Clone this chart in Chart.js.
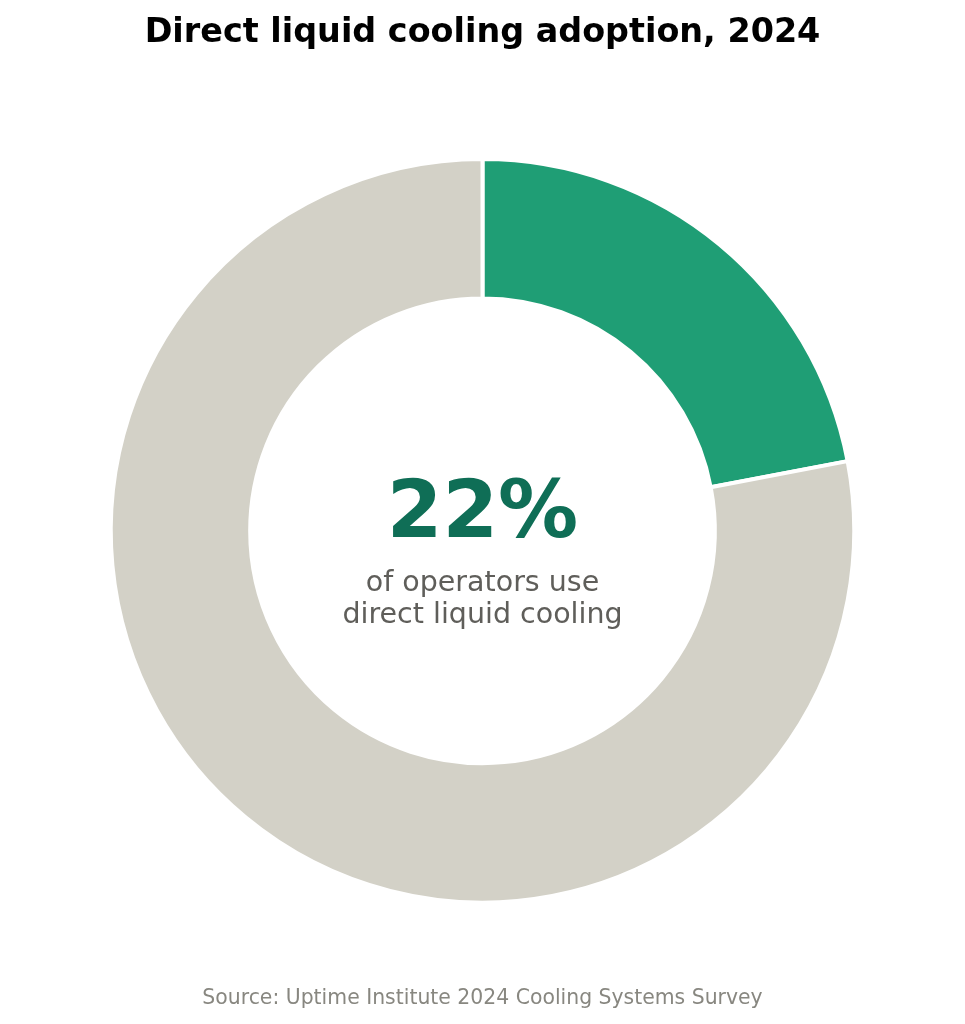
<!DOCTYPE html>
<html>
<head>
<meta charset="utf-8">
<script src="https://cdn.jsdelivr.net/npm/chart.js@4/dist/chart.umd.min.js"></script>
<style>
  html, body { margin: 0; padding: 0; background: #ffffff; }
  #wrap { width: 965px; height: 1024px; position: relative; }
</style>
</head>
<body>
<div id="wrap"><canvas id="c"></canvas></div>
<script>
const categories = ["Use direct liquid cooling", "Do not use direct liquid cooling"];
const shareValues = [22, 78];
const sliceColors = ["#1f9e75", "#d3d1c7"];
const titleText = "Direct liquid cooling adoption, 2024";
const centerValue = "22%";
const centerLines = ["of operators use", "direct liquid cooling"];
const sourceText = "Source: Uptime Institute 2024 Cooling Systems Survey";

const FONT = "'DejaVu Sans', sans-serif";

const centerTextPlugin = {
  id: 'centerText',
  afterDatasetsDraw(chart) {
    const meta = chart.getDatasetMeta(0);
    if (!meta.data.length) return;
    const arc = meta.data[0];
    const cx = arc.x, cy = arc.y;
    const ctx = chart.ctx;
    ctx.save();
    ctx.textAlign = 'center';
    ctx.textBaseline = 'alphabetic';
    ctx.fillStyle = '#0f6e56';
    ctx.font = "bold 80px " + FONT;
    ctx.fillText(centerValue, cx, cy + 6);
    ctx.fillStyle = '#5f5e5a';
    ctx.font = "28.5px " + FONT;
    ctx.fillText(centerLines[0], cx, cy + 60);
    ctx.fillText(centerLines[1], cx, cy + 92);
    ctx.restore();
  }
};

new Chart(document.getElementById('c'), {
  type: 'doughnut',
  data: {
    labels: categories,
    datasets: [{
      data: shareValues,
      backgroundColor: sliceColors,
      borderColor: '#ffffff',
      borderWidth: 4,
      hoverOffset: 0
    }]
  },
  options: {
    responsive: true,
    maintainAspectRatio: false,
    animation: false,
    cutout: '62.5%',
    rotation: 0,
    layout: { padding: 0 },
    plugins: {
      legend: { display: false },
      tooltip: { enabled: false },
      title: {
        display: true,
        text: titleText,
        color: '#000000',
        font: { family: FONT, size: 33.4, weight: 'bold', lineHeight: 1.2 },
        padding: { top: 13, bottom: 104 }
      },
      subtitle: {
        display: true,
        position: 'bottom',
        text: sourceText,
        color: '#888780',
        font: { family: FONT, size: 20.4, weight: 'normal', lineHeight: 1.2 },
        padding: { top: 82, bottom: 13 }
      }
    }
  },
  plugins: [centerTextPlugin]
});
</script>
</body>
</html>
